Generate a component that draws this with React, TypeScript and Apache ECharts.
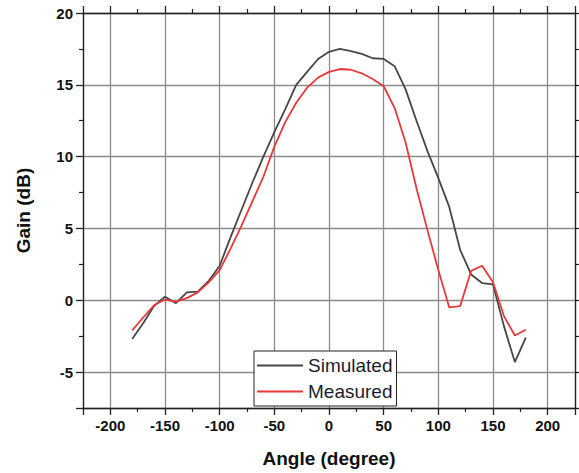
import React, { useEffect, useRef } from "react";
import * as echarts from "echarts";

const angles = [
  -180, -170, -160, -150, -140, -130, -120, -110, -100, -90, -80, -70, -60, -50, -40, -30, -20, -10,
  0, 10, 20, 30, 40, 50, 60, 70, 80, 90, 100, 110, 120, 130, 140, 150, 160, 170, 180,
];

const simulated = [
  -2.7, -1.6, -0.4, 0.25, -0.2, 0.55, 0.6, 1.35, 2.4, 4.4, 6.3, 8.2, 10.0, 11.7, 13.3, 15.0, 15.9, 16.8,
  17.3, 17.5, 17.35, 17.15, 16.85, 16.8, 16.3, 14.7, 12.5, 10.4, 8.5, 6.5, 3.5, 1.8, 1.2, 1.1, -1.8, -4.3, -2.6,
];

const measured = [
  -2.1, -1.2, -0.35, 0.05, -0.1, 0.15, 0.55, 1.25, 2.1, 3.6, 5.2, 6.9, 8.6, 10.7, 12.4, 13.75, 14.8, 15.5,
  15.9, 16.1, 16.05, 15.8, 15.4, 14.9, 13.4, 11.0, 7.8, 4.9, 2.1, -0.5, -0.4, 2.05, 2.4, 1.25, -1.1, -2.45, -2.05,
];

const seriesNames = ["Simulated", "Measured"];
const seriesColors = ["#474747", "#e8393a"];

const xRange = [-225, 225];
const yRange = [-7.5, 20];

const FONT = "Liberation Sans";

export default function App() {
  const ref = useRef<HTMLDivElement>(null);

  useEffect(() => {
    if (!ref.current) return;
    const chart = echarts.init(ref.current, undefined, { renderer: "svg" });

    const axisLine = { show: true, onZero: false, lineStyle: { color: "#222", width: 1.3 } };
    const axisTick = { show: true, inside: false, length: 7, lineStyle: { color: "#222", width: 1.3 } };
    const minorTick = { show: true, splitNumber: 2, length: 4, lineStyle: { color: "#222", width: 1.2 } };
    const labelStyle = { color: "#111", fontFamily: FONT, fontWeight: "bold" as const, fontSize: 15 };

    const fmt = (step: number) => (v: number) => (Math.abs(v % step) < 1e-6 ? String(v) : "");

    const toPairs = (vals: number[]) => angles.map((a, i) => [a, vals[i]]);

    chart.setOption({
      animation: false,
      backgroundColor: "#fff",
      grid: { left: 83, right: 4, top: 13, bottom: 64, containLabel: false },
      legend: {
        left: 254,
        top: 351,
        orient: "vertical",
        backgroundColor: "#fff",
        borderColor: "#222",
        borderWidth: 1,
        borderRadius: 0,
        padding: [3, 4, 3, 3],
        itemGap: 3,
        itemWidth: 46,
        itemHeight: 2,
        textStyle: { fontFamily: FONT, fontSize: 19, color: "#1c1c2c", lineHeight: 23 },
        data: seriesNames.map((n) => ({ name: n, icon: "rect" })),
      },
      xAxis: [
        {
          type: "value",
          min: xRange[0],
          max: xRange[1],
          splitNumber: 9,
          minInterval: 50,
          maxInterval: 50,
          position: "bottom",
          name: "Angle (degree)",
          nameLocation: "middle",
          nameGap: 41,
          nameTextStyle: { fontFamily: FONT, fontWeight: "bold", fontSize: 19, color: "#111" },
          axisLine,
          axisTick,
          minorTick,
          axisLabel: { ...labelStyle, margin: 10, formatter: fmt(50) },
          splitLine: { show: true, lineStyle: { color: "#8c8c8c", width: 1.3 } },
        },
        {
          type: "value",
          min: xRange[0],
          max: xRange[1],
          splitNumber: 9,
          minInterval: 50,
          maxInterval: 50,
          position: "top",
          axisLine,
          axisTick,
          minorTick,
          axisLabel: { show: false },
          splitLine: { show: false },
        },
      ],
      yAxis: [
        {
          type: "value",
          min: yRange[0],
          max: yRange[1],
          splitNumber: 5,
          minInterval: 5,
          maxInterval: 5,
          position: "left",
          name: "Gain (dB)",
          nameLocation: "middle",
          nameGap: 50,
          nameTextStyle: { fontFamily: FONT, fontWeight: "bold", fontSize: 19, color: "#111" },
          axisLine,
          axisTick,
          minorTick,
          axisLabel: { ...labelStyle, margin: 10, formatter: fmt(5) },
          splitLine: { show: true, lineStyle: { color: "#8c8c8c", width: 1.3 } },
        },
        {
          type: "value",
          min: yRange[0],
          max: yRange[1],
          splitNumber: 5,
          minInterval: 5,
          maxInterval: 5,
          position: "right",
          axisLine,
          axisTick,
          minorTick,
          axisLabel: { show: false },
          splitLine: { show: false },
        },
      ],
      series: [
        {
          name: seriesNames[0],
          type: "line",
          data: toPairs(simulated),
          showSymbol: false,
          symbol: "none",
          lineStyle: { color: seriesColors[0], width: 1.8 },
          itemStyle: { color: seriesColors[0] },
          z: 3,
        },
        {
          name: seriesNames[1],
          type: "line",
          data: toPairs(measured),
          showSymbol: false,
          symbol: "none",
          lineStyle: { color: seriesColors[1], width: 1.8 },
          itemStyle: { color: seriesColors[1] },
          z: 4,
        },
      ],
    });

    return () => chart.dispose();
  }, []);

  return (
    <div
      ref={ref}
      style={{ position: "fixed", left: 0, top: 0, width: 579, height: 473, background: "#fff" }}
    />
  );
}
